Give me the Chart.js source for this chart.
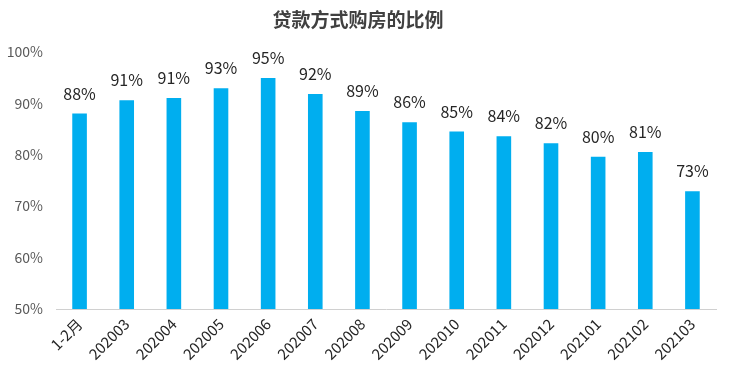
<!DOCTYPE html>
<html>
<head>
<meta charset="utf-8">
<script src="https://cdn.jsdelivr.net/npm/chart.js@4"></script>
<style>
  html, body { margin: 0; padding: 0; background: #fff; }
  #wrap { width: 732px; height: 377px; }
</style>
</head>
<body>
<div id="wrap"><canvas id="chart"></canvas></div>
<script>
/* DATA */
const months = ["1-2月", "202003", "202004", "202005", "202006", "202007", "202008",
  "202009", "202010", "202011", "202012", "202101", "202102", "202103"];
const loanShare = [88.0, 90.6, 91.0, 92.9, 94.9, 91.8, 88.5, 86.3, 84.5, 83.6, 82.2, 79.6, 80.5, 72.9];
const yTicks = [50, 60, 70, 80, 90, 100];

const FONT = '"Noto Sans CJK SC", "Noto Sans", sans-serif';

// draw the rounded percent above each bar
const barLabels = {
  id: "barLabels",
  afterDatasetsDraw(chart) {
    const ctx = chart.ctx;
    const meta = chart.getDatasetMeta(0);
    ctx.save();
    ctx.font = "16px " + FONT;
    ctx.fillStyle = "#262626";
    ctx.textAlign = "center";
    ctx.textBaseline = "bottom";
    meta.data.forEach((bar, i) => {
      ctx.fillText(Math.round(loanShare[i]) + "%", bar.x, bar.y - 12);
    });
    ctx.restore();
  },
};

new Chart(document.getElementById("chart"), {
  type: "bar",
  data: {
    labels: months,
    datasets: [{
      label: "贷款方式购房的比例",
      data: loanShare,
      backgroundColor: "#00AEEF",
      categoryPercentage: 1,
      barPercentage: 0.31,
    }],
  },
  options: {
    responsive: true,
    maintainAspectRatio: false,
    animation: false,
    layout: { padding: { left: 0, right: 16, bottom: 0 } },
    plugins: {
      legend: { display: false },
      tooltip: { enabled: false },
      title: {
        display: true,
        text: "贷款方式购房的比例",
        color: "#404040",
        font: { family: FONT, size: 19, weight: "bold" },
        padding: { top: 8, bottom: 21 },
      },
    },
    scales: {
      x: {
        grid: { display: false, drawTicks: false },
        border: { color: "#d0d0d0", width: 1 },
        ticks: {
          color: "#262626",
          font: { family: FONT, size: 15 },
          minRotation: 45,
          maxRotation: 45,
          padding: 6,
        },
        afterFit: (s) => { s.height = 68; },
      },
      y: {
        min: 50,
        max: 100,
        grid: { display: false, drawTicks: false },
        border: { display: false },
        afterBuildTicks: (s) => { s.ticks = yTicks.map((v) => ({ value: v })); },
        ticks: {
          color: "#595959",
          font: { family: FONT, size: 14 },
          padding: 13,
          callback: (v) => v + "%",
        },
        afterFit: (s) => { s.width = 56; },
      },
    },
  },
  plugins: [barLabels],
});
</script>
</body>
</html>
